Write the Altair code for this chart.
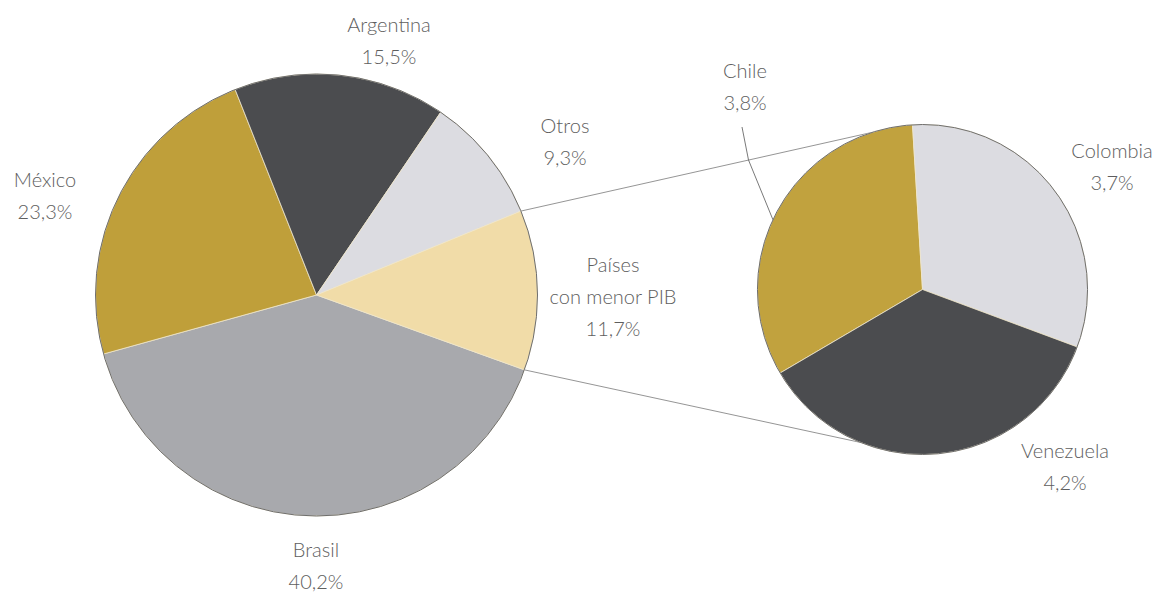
import math
import altair as alt
import pandas as pd

# ---------------- data ----------------
main_names = ["Brasil", "México", "Argentina", "Otros", "Países con menor PIB"]
main_values = [40.2, 23.3, 15.5, 9.3, 11.7]
main_label_lines = [["Brasil"], ["México"], ["Argentina"], ["Otros"], ["Países", "con menor PIB"]]

sub_names = ["Chile", "Colombia", "Venezuela"]
sub_values = [3.8, 3.7, 4.2]
sub_label_lines = [["Chile"], ["Colombia"], ["Venezuela"]]

# ---------------- layout / style ----------------
W, H = 1144, 585
MAIN_C = (308.5, 287.0)
MAIN_R = 221
SUB_C = (914.5, 281.5)
SUB_R = 165
MAIN_START = math.radians(109.8)
SUB_START = math.radians(239.6)
TAU = 2 * math.pi

colors = {
    "Brasil": "#a8a9ad",
    "México": "#bf9f3a",
    "Argentina": "#4b4c4f",
    "Otros": "#dcdce1",
    "Países con menor PIB": "#f1dca8",
    "Chile": "#c1a23e",
    "Colombia": "#dcdce1",
    "Venezuela": "#4b4c4f",
}

# label anchor (x centre, first baseline) in chart pixels
label_pos = {
    "Brasil": (308, 549),
    "México": (37, 179),
    "Argentina": (381, 24),
    "Otros": (557, 125),
    "Países con menor PIB": (605, 264),
    "Chile": (737, 70),
    "Colombia": (1104, 150),
    "Venezuela": (1057, 450),
}

FONT = "Lato"
FS = 20
TXT = "#5e5e5e"


def fmt(v):
    return f"{v:.1f}%".replace(".", ",")


color_scale = alt.Scale(domain=list(colors.keys()), range=list(colors.values()))


def pie(names, values, center, r, start):
    df = pd.DataFrame({"name": names, "value": values, "order": list(range(len(names)))})
    total = sum(values)
    slices = alt.Chart(df).mark_arc(outerRadius=r, stroke="#efe6cc", strokeWidth=0.8).encode(
        x=alt.value(center[0]),
        y=alt.value(center[1]),
        theta=alt.Theta("value:Q", stack=True,
                        scale=alt.Scale(domain=[0, total], range=[start, start + TAU])),
        order=alt.Order("order:Q"),
        color=alt.Color("name:N", scale=color_scale, legend=None),
    )
    outline = alt.Chart(pd.DataFrame({"a": [0]})).mark_arc(
        theta=0, theta2=TAU, outerRadius=r, filled=False, stroke="#6e6e6e", strokeWidth=1
    ).encode(x=alt.value(center[0]), y=alt.value(center[1]))
    return slices, outline


main_slices, main_outline = pie(main_names, main_values, MAIN_C, MAIN_R, MAIN_START)
sub_slices, sub_outline = pie(sub_names, sub_values, SUB_C, SUB_R, SUB_START)


def polar(center, r, ang):
    return center[0] + r * math.sin(ang), center[1] - r * math.cos(ang)


# connector lines from the "Países con menor PIB" slice to the secondary pie
idx = main_names.index("Países con menor PIB")
cum_before = sum(main_values[:idx])
a0 = MAIN_START + TAU * cum_before / sum(main_values)
a1 = a0 + TAU * main_values[idx] / sum(main_values)
p0 = polar(MAIN_C, MAIN_R, a0)
p1 = polar(MAIN_C, MAIN_R, a1)
q0 = polar(SUB_C, SUB_R, math.radians(-17.7))
q1 = polar(SUB_C, SUB_R, math.radians(202.0))
conn = pd.DataFrame({"x": [p0[0], p1[0]], "y": [p0[1], p1[1]],
                     "x2": [q0[0], q1[0]], "y2": [q0[1], q1[1]]})
connectors = alt.Chart(conn).mark_rule(color="#7a7a7a", strokeWidth=0.8).encode(
    x=alt.X("x:Q", scale=None, axis=None),
    y=alt.Y("y:Q", scale=None, axis=None),
    x2="x2:Q",
    y2="y2:Q",
)

# Chile leader line
chile_end = polar(SUB_C, SUB_R, math.radians(295.0))
leader_df = pd.DataFrame({
    "x": [734.0, 740.5, chile_end[0]],
    "y": [119.0, 152.0, chile_end[1]],
    "o": [0, 1, 2],
})
leader = alt.Chart(leader_df).mark_line(color="#6a6a6a", strokeWidth=0.9).encode(
    x=alt.X("x:Q", scale=None, axis=None),
    y=alt.Y("y:Q", scale=None, axis=None),
    order="o:Q",
)

# labels
rows = []
for names, values, lines in ((main_names, main_values, main_label_lines),
                             (sub_names, sub_values, sub_label_lines)):
    for n, v, ls in zip(names, values, lines):
        x, y = label_pos[n]
        rows.append({"x": x, "y": y, "label": "\n".join(ls + [fmt(v)])})
lab_df = pd.DataFrame(rows)
labels = alt.Chart(lab_df).mark_text(
    font=FONT, fontSize=FS, fontWeight=300, color=TXT, align="center", baseline="alphabetic",
    lineBreak="\n", lineHeight=32,
).encode(
    x=alt.X("x:Q", scale=None, axis=None),
    y=alt.Y("y:Q", scale=None, axis=None),
    text="label:N",
)

chart = alt.layer(
    connectors, main_slices, main_outline, sub_slices, sub_outline, leader, labels
).resolve_scale(theta="independent").properties(
    width=W, height=H, autosize="none", padding=0, background="white"
).configure_view(stroke=None)

chart.save("out.html", embed_options={"renderer": "svg", "actions": False})
